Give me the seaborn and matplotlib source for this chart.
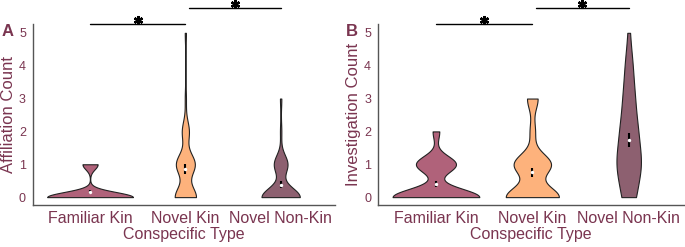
import numpy as np
import pandas as pd
import matplotlib
matplotlib.use('Agg')
import matplotlib.pyplot as plt
import seaborn as sns

# Conspecific types
TYPES = ['Familiar Kin', 'Novel Kin', 'Novel Non-Kin']
COLORS = ['#b0627a', '#fdb27c', '#8d6070']
TEXT = '#7a3550'

# Counts per conspecific type (value: how many)
affil_familiar = [0] * 34 + [1] * 6
affil_novel = [0] * 18 + [1] * 16 + [2] * 6 + [3] * 1 + [5] * 1
affil_nonkin = [0] * 28 + [1] * 10 + [2] * 1 + [3] * 1

invest_familiar = [0] * 26 + [1] * 12 + [2] * 2
invest_novel = [0] * 20 + [1] * 14 + [2] * 2 + [3] * 4
invest_nonkin = [0] * 7 + [1] * 13 + [2] * 9 + [3] * 6 + [4] * 4 + [5] * 1


def nrd0(kde):
    # R's default bandwidth, expressed as a factor of the sample sd
    x = np.ravel(kde.dataset)
    sd = np.std(x, ddof=1)
    iqr = np.subtract(*np.percentile(x, [75, 25]))
    lo = min(sd, iqr / 1.34)
    if lo == 0:
        lo = sd
    return 0.9 * lo * len(x) ** -0.2 / sd


def to_frame(groups):
    rows = []
    for name, vals in zip(TYPES, groups):
        rows += [(name, v) for v in vals]
    return pd.DataFrame(rows, columns=['type', 'count'])


def draw_panel(ax, df, ylabel, letter):
    sns.violinplot(data=df, x='type', y='count', hue='type', order=TYPES,
                   hue_order=TYPES, palette=COLORS, saturation=1, cut=0,
                   inner=None, density_norm='area', common_norm=True,
                   width=0.9, linewidth=0.8, linecolor='#222222',
                   bw_method=nrd0, legend=False, ax=ax)

    # Mean +/- SE
    stats = df.groupby('type', sort=False)['count'].agg(['mean', 'sem'])
    stats = stats.reindex(TYPES)
    xs = np.arange(len(TYPES))
    ax.errorbar(xs, stats['mean'], yerr=stats['sem'], fmt='none',
                ecolor='black', elinewidth=1.5, capsize=0, zorder=5)
    ax.scatter(xs, stats['mean'], s=6, color='white', zorder=6, linewidths=0)

    ax.set_xlim(-0.6, 2.57)
    ax.set_ylim(-0.24, 5.27)
    ax.set_yticks(range(6))
    ax.set_xlabel('Conspecific Type', color=TEXT, fontsize=11.5, labelpad=1)
    ax.set_ylabel(ylabel, color=TEXT, fontsize=12)
    ax.yaxis.set_label_coords(-0.055, 0.5)
    ax.tick_params(axis='x', colors=TEXT, labelsize=11.5, length=0, pad=4)
    ax.tick_params(axis='y', colors=TEXT, labelsize=9, length=0, pad=5)
    for s in ['top', 'right']:
        ax.spines[s].set_visible(False)
    for s in ['left', 'bottom']:
        ax.spines[s].set_color('#555555')
        ax.spines[s].set_linewidth(1.0)

    # Significance brackets
    for x0, x1, y in [(0, 1, 5.27), (1.04, 2, 5.76)]:
        ax.plot([x0, x1], [y, y], color='black', lw=1.0, clip_on=False)
        ax.plot((x0 + x1) / 2, y + 0.13, marker=(6, 2, 0), ms=6.5, mew=1.7,
                color='black', clip_on=False)

    ax.text(-0.065, 0.956, letter, transform=ax.transAxes, fontsize=12,
            fontweight='bold', color=TEXT, ha='right', va='center')


if __name__ == '__main__':
    sns.set_style('white')
    plt.rcParams['font.family'] = ['Liberation Sans', 'DejaVu Sans']

    fig = plt.figure(figsize=(6.85, 2.47), dpi=100)
    ax1 = fig.add_axes([0.048, 0.17, 0.441, 0.733])
    ax2 = fig.add_axes([0.552, 0.17, 0.446, 0.733])

    draw_panel(ax1, to_frame([affil_familiar, affil_novel, affil_nonkin]),
               'Affiliation Count', 'A')
    draw_panel(ax2, to_frame([invest_familiar, invest_novel, invest_nonkin]),
               'Investigation Count', 'B')

    fig.savefig('out.png', dpi=100)
